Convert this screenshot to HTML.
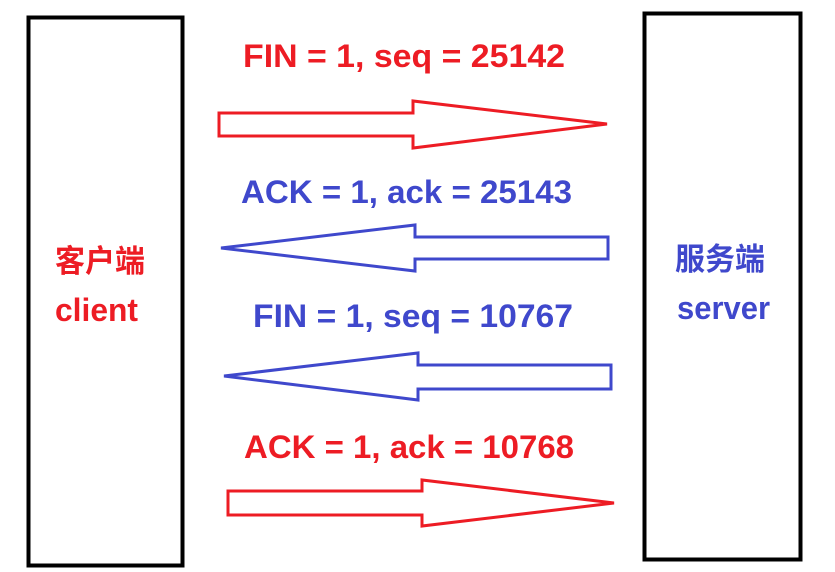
<!DOCTYPE html>
<html><head><meta charset="utf-8"><style>html,body{margin:0;padding:0;background:#fff}svg{display:block}</style></head>
<body>
<svg width="835" height="572" xmlns="http://www.w3.org/2000/svg" font-family="'Liberation Sans','Noto Sans CJK SC',sans-serif" font-weight="bold">
<rect x="28.5" y="17.5" width="154" height="548" fill="none" stroke="#000" stroke-width="4"/>
<rect x="644.5" y="13.5" width="156" height="546" fill="none" stroke="#000" stroke-width="4"/>
<g fill="none" stroke-width="3" stroke-linejoin="miter">
<polygon points="219,113 413,113 413,101 607,124 413,148 413,136 219,136" stroke="#ed1c24"/>
<polygon points="608,237 415,237 415,225 221,248 415,271 415,259 608,259" stroke="#3f48cc"/>
<polygon points="611,365 418,365 418,353 224,376 418,400 418,389 611,389" stroke="#3f48cc"/>
<polygon points="228,491 422,491 422,480 614,503 422,526 422,515 228,515" stroke="#ed1c24"/>
</g>
<g font-size="32">
<text x="243" y="67" fill="#ed1c24" textLength="322" lengthAdjust="spacingAndGlyphs">FIN = 1, seq = 25142</text>
<text x="241" y="203" fill="#3f48cc" textLength="331" lengthAdjust="spacingAndGlyphs">ACK = 1, ack = 25143</text>
<text x="253" y="327" fill="#3f48cc" textLength="320" lengthAdjust="spacingAndGlyphs">FIN = 1, seq = 10767</text>
<text x="244" y="458" fill="#ed1c24" textLength="330" lengthAdjust="spacingAndGlyphs">ACK = 1, ack = 10768</text>
<text x="55" y="321" fill="#ed1c24" textLength="83" lengthAdjust="spacingAndGlyphs">client</text>
<text x="677" y="319" fill="#3f48cc" textLength="93" lengthAdjust="spacingAndGlyphs">server</text>
</g>
<g font-size="31">
<text x="55" y="272" fill="#ed1c24" textLength="90" lengthAdjust="spacingAndGlyphs">客户端</text>
<text x="675" y="270" fill="#3f48cc" textLength="90" lengthAdjust="spacingAndGlyphs">服务端</text>
</g>
</svg>
</body></html>
